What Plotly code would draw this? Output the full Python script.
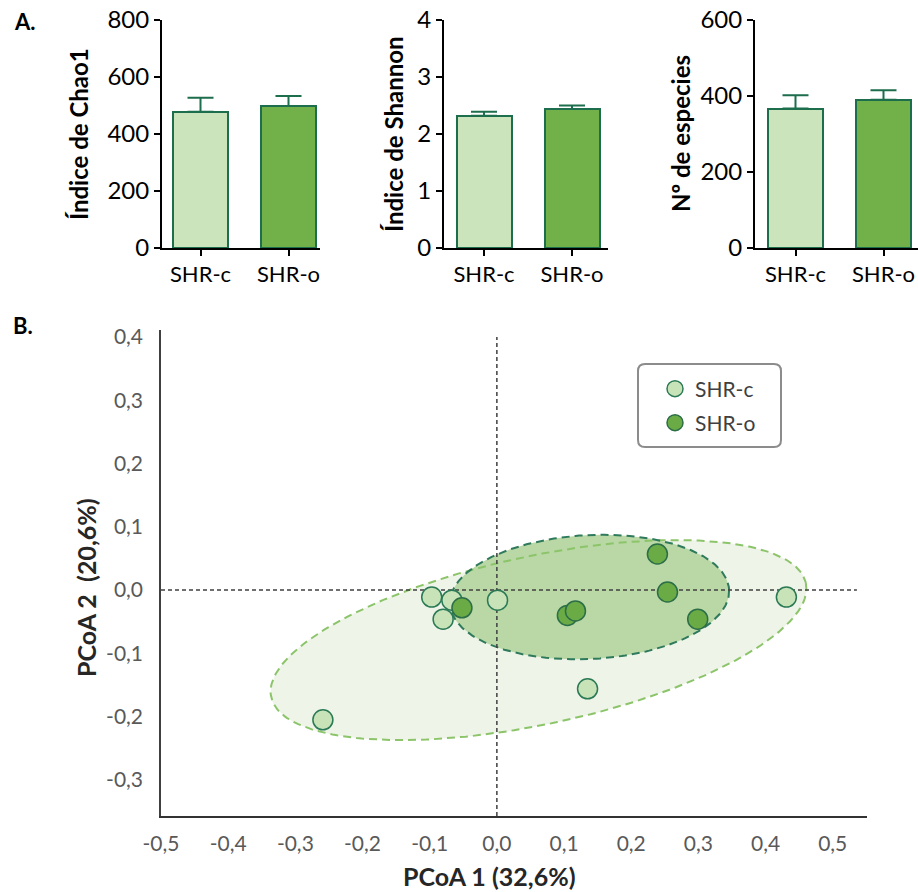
import numpy as np
import plotly.graph_objects as go

# ---------------- data ----------------
groups = ["SHR-c", "SHR-o"]
chao1_mean = [478, 498]
chao1_err = [49, 35]
shannon_mean = [2.32, 2.44]
shannon_err = [0.07, 0.06]
species_mean = [367, 390]
species_err = [35, 25]

shrc_pc1 = [-0.097, -0.067, -0.080, 0.001, -0.259, 0.431, 0.135]
shrc_pc2 = [-0.011, -0.016, -0.046, -0.016, -0.205, -0.011, -0.156]
shro_pc1 = [-0.052, 0.105, 0.117, 0.239, 0.254, 0.299]
shro_pc2 = [-0.028, -0.040, -0.033, 0.057, -0.003, -0.046]

# ellipse parameters (center, semi-axis vectors) in data units
shrc_ell_center = [0.062, -0.079]
shrc_ell_axis1 = [0.398, 0.090]
shrc_ell_axis2 = [0.026, -0.130]
shro_ell_center = [0.138, -0.011]
shro_ell_axis1 = [0.2077, 0.0115]
shro_ell_axis2 = [0.0048, -0.0978]

pc_ticks = [-0.5, -0.4, -0.3, -0.2, -0.1, 0.0, 0.1, 0.2, 0.3, 0.4, 0.5]
pc_ticktext = ["-0,5", "-0,4", "-0,3", "-0,2", "-0,1", "0,0", "0,1", "0,2", "0,3", "0,4", "0,5"]
pc2_ticks = [-0.3, -0.2, -0.1, 0.0, 0.1, 0.2, 0.3, 0.4]
pc2_ticktext = ["-0,3", "-0,2", "-0,1", "0,0", "0,1", "0,2", "0,3", "0,4"]

# ---------------- styles ----------------
W, H = 918, 892
FONT = "Lato"
light = "#cce4bc"
dark = "#72b04a"
edge = "#1c6e4c"
px_x = lambda p: p / W
px_y = lambda p: 1 - p / H

fig = go.Figure()

panels = [
    (chao1_mean, chao1_err, "Índice de Chao1", [0, 800], 200, (162, 320), 200.5, 78),
    (shannon_mean, shannon_err, "Índice de Shannon", [0, 4], 1, (444, 608), 484, 393),
    (species_mean, species_err, "Nº de especies", [0, 600], 200, (755, 918), 795.5, 680),
]
x_pos = [0, 1]
for i, (means, errs, title, yr, dt, (x0, x1), c0, tx) in enumerate(panels):
    k = "" if i == 0 else str(i + 1)
    fig.add_trace(go.Bar(
        x=x_pos, y=means, width=0.625,
        marker=dict(color=[light, dark], line=dict(color=edge, width=2)),
        error_y=dict(type="data", array=errs, arrayminus=[0, 0], symmetric=False,
                     color=edge, thickness=2, width=13),
        xaxis="x" + k, yaxis="y" + k, showlegend=False, hoverinfo="skip"))
    fig.update_layout(**{
        "xaxis" + k: dict(domain=[px_x(x0), px_x(x1)],
                          range=[(x0 - c0) / 88.0, (x1 - c0) / 88.0],
                          tickvals=x_pos, ticktext=groups, ticks="outside", ticklen=6,
                          tickwidth=1.5, tickcolor="black", showline=True, linecolor="black",
                          linewidth=2, showgrid=False, zeroline=False,
                          tickfont=dict(family=FONT, size=22, color="black"),
                          anchor="y" + k, fixedrange=True),
        "yaxis" + k: dict(domain=[px_y(248), px_y(20)], range=yr, dtick=dt,
                          ticks="outside", ticklen=6, tickwidth=1.5, tickcolor="black",
                          showline=True, linecolor="black", linewidth=2, showgrid=False,
                          zeroline=False, tickfont=dict(family=FONT, size=24, color="black"),
                          anchor="x" + k, fixedrange=True),
    })
    fig.add_annotation(x=px_x(tx), y=px_y(134), xref="paper", yref="paper",
                       xanchor="center", yanchor="middle",
                       text="<b>" + title + "</b>", textangle=-90, showarrow=False,
                       font=dict(family=FONT, size=24, color="black"))

# ---------------- PCoA panel ----------------
t = np.linspace(0, 2 * np.pi, 241)


def ellipse(center, a1, a2):
    ex = center[0] + a1[0] * np.cos(t) + a2[0] * np.sin(t)
    ey = center[1] + a1[1] * np.cos(t) + a2[1] * np.sin(t)
    return ex, ey


lx, ly = ellipse(shrc_ell_center, shrc_ell_axis1, shrc_ell_axis2)
dx, dy = ellipse(shro_ell_center, shro_ell_axis1, shro_ell_axis2)

fig.add_trace(go.Scatter(x=lx, y=ly, mode="lines", fill="toself", fillcolor="#eef4e8",
                         line=dict(width=0), xaxis="x4", yaxis="y4", showlegend=False,
                         hoverinfo="skip"))
fig.add_trace(go.Scatter(x=dx, y=dy, mode="lines", fill="toself", fillcolor="#b9d8a5",
                         line=dict(width=0), xaxis="x4", yaxis="y4", showlegend=False,
                         hoverinfo="skip"))
fig.add_trace(go.Scatter(x=lx, y=ly, mode="lines",
                         line=dict(color="#8cc46a", width=2, dash="8px,5px"),
                         xaxis="x4", yaxis="y4", showlegend=False, hoverinfo="skip"))
fig.add_trace(go.Scatter(x=dx, y=dy, mode="lines",
                         line=dict(color="#2f7a5c", width=2, dash="8px,5px"),
                         xaxis="x4", yaxis="y4", showlegend=False, hoverinfo="skip"))

# reference lines at zero
zero_x_span = [-0.5, 0.536]
zero_y_span = [-0.357, 0.40]
fig.add_trace(go.Scatter(x=zero_x_span, y=[0, 0], mode="lines",
                         line=dict(color="#404040", width=1.5, dash="4px,3px"),
                         xaxis="x4", yaxis="y4", showlegend=False, hoverinfo="skip"))
fig.add_trace(go.Scatter(x=[0, 0], y=zero_y_span, mode="lines",
                         line=dict(color="#404040", width=1.5, dash="4px,3px"),
                         xaxis="x4", yaxis="y4", showlegend=False, hoverinfo="skip"))

fig.add_trace(go.Scatter(x=shrc_pc1, y=shrc_pc2, mode="markers", name="SHR-c",
                         marker=dict(size=20, color="#c9e3b8",
                                     line=dict(color="#2b7a56", width=1.5)),
                         xaxis="x4", yaxis="y4", legend="legend"))
fig.add_trace(go.Scatter(x=shro_pc1, y=shro_pc2, mode="markers", name="SHR-o",
                         marker=dict(size=20, color="#6aab45",
                                     line=dict(color="#2b6e48", width=1.5)),
                         xaxis="x4", yaxis="y4", legend="legend2"))

fig.update_layout(
    xaxis4=dict(domain=[px_x(161), px_x(867)], range=[-0.5, 0.551],
                tickvals=pc_ticks, ticktext=pc_ticktext, ticks="outside", ticklen=8,
                tickcolor="rgba(0,0,0,0)", showline=True, linecolor="#333333", linewidth=1.5,
                showgrid=False, zeroline=False, anchor="y4",
                tickfont=dict(family=FONT, size=21, color="#595959"), fixedrange=True),
    yaxis4=dict(domain=[px_y(816), px_y(330)], range=[-0.357, 0.411],
                tickvals=pc2_ticks, ticktext=pc2_ticktext, ticks="outside", ticklen=12,
                tickcolor="rgba(0,0,0,0)", showline=True, linecolor="#404040", linewidth=1.5,
                showgrid=False, zeroline=False, anchor="x4",
                tickfont=dict(family=FONT, size=21, color="#595959"), fixedrange=True),
)

ann = dict(xref="paper", yref="paper", xanchor="center", yanchor="middle", showarrow=False)
fig.add_annotation(x=px_x(86), y=px_y(588), text="<b>PCoA 2\u00a0 (20,6%)</b>", textangle=-90,
                   font=dict(family=FONT, size=25, color="#262626"), **ann)
fig.add_annotation(x=px_x(490), y=px_y(876), text="<b>PCoA 1 (32,6%)</b>",
                   font=dict(family=FONT, size=25, color="#262626"), **ann)
fig.add_annotation(x=px_x(25), y=px_y(22), text="<b>A.</b>",
                   font=dict(family=FONT, size=22, color="black"), **ann)
fig.add_annotation(x=px_x(23), y=px_y(325), text="<b>B.</b>",
                   font=dict(family=FONT, size=22, color="black"), **ann)

# legend box (rounded rectangle)
bx0, bx1, by0, by1, r = 638, 781, 364, 447, 7
rx, ry = r / W, r / H
X0, X1, Y0, Y1 = px_x(bx0), px_x(bx1), px_y(by1), px_y(by0)
path = (f"M {X0+rx},{Y0} L {X1-rx},{Y0} Q {X1},{Y0} {X1},{Y0+ry} "
        f"L {X1},{Y1-ry} Q {X1},{Y1} {X1-rx},{Y1} L {X0+rx},{Y1} Q {X0},{Y1} {X0},{Y1-ry} "
        f"L {X0},{Y0+ry} Q {X0},{Y0} {X0+rx},{Y0} Z")
fig.add_shape(type="path", path=path, xref="paper", yref="paper",
              line=dict(color="#8c8c8c", width=2), fillcolor="rgba(0,0,0,0)", layer="above")

legend_style = dict(font=dict(family=FONT, size=21, color="#404040"),
                    bgcolor="rgba(0,0,0,0)", borderwidth=0, xanchor="left",
                    yanchor="middle", itemclick=False, itemdoubleclick=False)
fig.update_layout(
    legend=dict(x=px_x(655), y=px_y(389), **legend_style),
    legend2=dict(x=px_x(655), y=px_y(423), **legend_style),
)

fig.update_layout(
    width=W, height=H, margin=dict(l=0, r=0, t=0, b=0, pad=0, autoexpand=False),
    paper_bgcolor="white", plot_bgcolor="rgba(0,0,0,0)",
    font=dict(family=FONT), bargap=0,
)

fig.write_html("out.html")
